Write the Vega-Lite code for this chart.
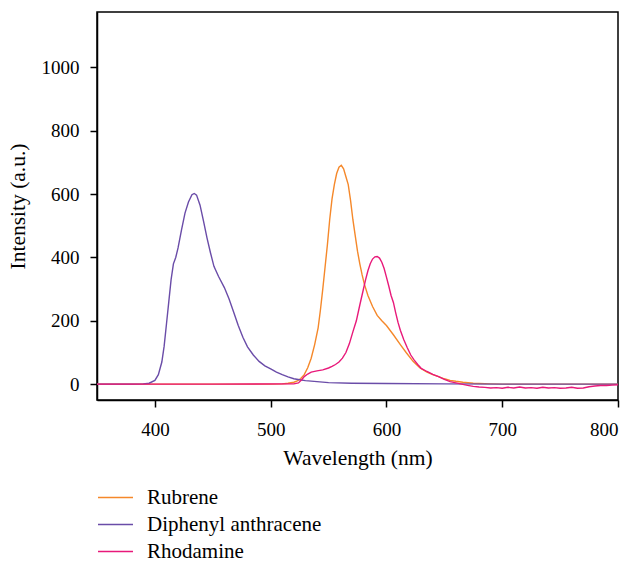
{
  "$schema": "https://vega.github.io/schema/vega-lite/v6.json",
  "width": 521,
  "height": 388,
  "autosize": {"type": "none"},
  "padding": {"left": 97, "top": 12, "right": 17, "bottom": 161},
  "background": "white",
  "config": {
    "view": {"stroke": "black", "strokeWidth": 1.5},
    "axis": {
      "grid": false,
      "domainColor": "black",
      "domainWidth": 1.5,
      "tickColor": "black",
      "tickWidth": 1.5,
      "tickSize": 7,
      "labelFont": "'Liberation Serif', 'Times New Roman', Times, serif",
      "labelFontSize": 19,
      "labelColor": "black",
      "titleFont": "'Liberation Serif', 'Times New Roman', Times, serif",
      "titleFontSize": 21.5,
      "titleFontWeight": "normal",
      "titleColor": "black"
    },
    "legend": {
      "labelFont": "'Liberation Serif', 'Times New Roman', Times, serif",
      "labelFontSize": 21,
      "labelColor": "black",
      "labelLimit": 400
    }
  },
  "data": {
    "values": [
      {"w": 350, "i": 0, "s": "Rubrene"},
      {"w": 450, "i": 0, "s": "Rubrene"},
      {"w": 500, "i": 0, "s": "Rubrene"},
      {"w": 510, "i": 1, "s": "Rubrene"},
      {"w": 515, "i": 3, "s": "Rubrene"},
      {"w": 520, "i": 6, "s": "Rubrene"},
      {"w": 523, "i": 10, "s": "Rubrene"},
      {"w": 526, "i": 18, "s": "Rubrene"},
      {"w": 529, "i": 30, "s": "Rubrene"},
      {"w": 532, "i": 52, "s": "Rubrene"},
      {"w": 535, "i": 82, "s": "Rubrene"},
      {"w": 538, "i": 125, "s": "Rubrene"},
      {"w": 541, "i": 178, "s": "Rubrene"},
      {"w": 543, "i": 235, "s": "Rubrene"},
      {"w": 545, "i": 300, "s": "Rubrene"},
      {"w": 547, "i": 370, "s": "Rubrene"},
      {"w": 549, "i": 440, "s": "Rubrene"},
      {"w": 551, "i": 520, "s": "Rubrene"},
      {"w": 553, "i": 585, "s": "Rubrene"},
      {"w": 555, "i": 630, "s": "Rubrene"},
      {"w": 557, "i": 665, "s": "Rubrene"},
      {"w": 559, "i": 685, "s": "Rubrene"},
      {"w": 561, "i": 691, "s": "Rubrene"},
      {"w": 563, "i": 680, "s": "Rubrene"},
      {"w": 565, "i": 655, "s": "Rubrene"},
      {"w": 567, "i": 630, "s": "Rubrene"},
      {"w": 569, "i": 580, "s": "Rubrene"},
      {"w": 571, "i": 520, "s": "Rubrene"},
      {"w": 573, "i": 470, "s": "Rubrene"},
      {"w": 575, "i": 420, "s": "Rubrene"},
      {"w": 577, "i": 380, "s": "Rubrene"},
      {"w": 579, "i": 345, "s": "Rubrene"},
      {"w": 581, "i": 315, "s": "Rubrene"},
      {"w": 584, "i": 280, "s": "Rubrene"},
      {"w": 588, "i": 245, "s": "Rubrene"},
      {"w": 592, "i": 217, "s": "Rubrene"},
      {"w": 596, "i": 200, "s": "Rubrene"},
      {"w": 600, "i": 185, "s": "Rubrene"},
      {"w": 606, "i": 156, "s": "Rubrene"},
      {"w": 612, "i": 125, "s": "Rubrene"},
      {"w": 617, "i": 100, "s": "Rubrene"},
      {"w": 623, "i": 72, "s": "Rubrene"},
      {"w": 629, "i": 51, "s": "Rubrene"},
      {"w": 635, "i": 38, "s": "Rubrene"},
      {"w": 640, "i": 30, "s": "Rubrene"},
      {"w": 645, "i": 24, "s": "Rubrene"},
      {"w": 650, "i": 17, "s": "Rubrene"},
      {"w": 655, "i": 12, "s": "Rubrene"},
      {"w": 660, "i": 9, "s": "Rubrene"},
      {"w": 666, "i": 6, "s": "Rubrene"},
      {"w": 675, "i": 3, "s": "Rubrene"},
      {"w": 690, "i": 1, "s": "Rubrene"},
      {"w": 700, "i": 0, "s": "Rubrene"},
      {"w": 800, "i": 0, "s": "Rubrene"},

      {"w": 350, "i": 0, "s": "Diphenyl anthracene"},
      {"w": 380, "i": 0, "s": "Diphenyl anthracene"},
      {"w": 390, "i": 1, "s": "Diphenyl anthracene"},
      {"w": 395, "i": 3, "s": "Diphenyl anthracene"},
      {"w": 400, "i": 12, "s": "Diphenyl anthracene"},
      {"w": 403, "i": 30, "s": "Diphenyl anthracene"},
      {"w": 406, "i": 70, "s": "Diphenyl anthracene"},
      {"w": 408, "i": 120, "s": "Diphenyl anthracene"},
      {"w": 410, "i": 190, "s": "Diphenyl anthracene"},
      {"w": 412, "i": 260, "s": "Diphenyl anthracene"},
      {"w": 414, "i": 330, "s": "Diphenyl anthracene"},
      {"w": 416, "i": 380, "s": "Diphenyl anthracene"},
      {"w": 418, "i": 400, "s": "Diphenyl anthracene"},
      {"w": 420, "i": 430, "s": "Diphenyl anthracene"},
      {"w": 423, "i": 487, "s": "Diphenyl anthracene"},
      {"w": 426, "i": 540, "s": "Diphenyl anthracene"},
      {"w": 429, "i": 575, "s": "Diphenyl anthracene"},
      {"w": 432, "i": 598, "s": "Diphenyl anthracene"},
      {"w": 434, "i": 602, "s": "Diphenyl anthracene"},
      {"w": 436, "i": 597, "s": "Diphenyl anthracene"},
      {"w": 439, "i": 565, "s": "Diphenyl anthracene"},
      {"w": 442, "i": 515, "s": "Diphenyl anthracene"},
      {"w": 445, "i": 462, "s": "Diphenyl anthracene"},
      {"w": 448, "i": 415, "s": "Diphenyl anthracene"},
      {"w": 451, "i": 372, "s": "Diphenyl anthracene"},
      {"w": 455, "i": 340, "s": "Diphenyl anthracene"},
      {"w": 460, "i": 305, "s": "Diphenyl anthracene"},
      {"w": 464, "i": 270, "s": "Diphenyl anthracene"},
      {"w": 468, "i": 228, "s": "Diphenyl anthracene"},
      {"w": 472, "i": 185, "s": "Diphenyl anthracene"},
      {"w": 476, "i": 148, "s": "Diphenyl anthracene"},
      {"w": 480, "i": 118, "s": "Diphenyl anthracene"},
      {"w": 485, "i": 92, "s": "Diphenyl anthracene"},
      {"w": 490, "i": 72, "s": "Diphenyl anthracene"},
      {"w": 495, "i": 58, "s": "Diphenyl anthracene"},
      {"w": 500, "i": 48, "s": "Diphenyl anthracene"},
      {"w": 505, "i": 38, "s": "Diphenyl anthracene"},
      {"w": 510, "i": 30, "s": "Diphenyl anthracene"},
      {"w": 515, "i": 23, "s": "Diphenyl anthracene"},
      {"w": 520, "i": 17, "s": "Diphenyl anthracene"},
      {"w": 525, "i": 14, "s": "Diphenyl anthracene"},
      {"w": 530, "i": 11, "s": "Diphenyl anthracene"},
      {"w": 540, "i": 8, "s": "Diphenyl anthracene"},
      {"w": 550, "i": 5, "s": "Diphenyl anthracene"},
      {"w": 570, "i": 3, "s": "Diphenyl anthracene"},
      {"w": 600, "i": 2, "s": "Diphenyl anthracene"},
      {"w": 650, "i": 1, "s": "Diphenyl anthracene"},
      {"w": 700, "i": 0, "s": "Diphenyl anthracene"},
      {"w": 800, "i": 0, "s": "Diphenyl anthracene"},

      {"w": 350, "i": 0, "s": "Rhodamine"},
      {"w": 450, "i": 0, "s": "Rhodamine"},
      {"w": 520, "i": 1, "s": "Rhodamine"},
      {"w": 524, "i": 4, "s": "Rhodamine"},
      {"w": 527, "i": 15, "s": "Rhodamine"},
      {"w": 529, "i": 24, "s": "Rhodamine"},
      {"w": 532, "i": 32, "s": "Rhodamine"},
      {"w": 535, "i": 38, "s": "Rhodamine"},
      {"w": 540, "i": 42, "s": "Rhodamine"},
      {"w": 545, "i": 45, "s": "Rhodamine"},
      {"w": 550, "i": 51, "s": "Rhodamine"},
      {"w": 553, "i": 56, "s": "Rhodamine"},
      {"w": 556, "i": 62, "s": "Rhodamine"},
      {"w": 559, "i": 70, "s": "Rhodamine"},
      {"w": 562, "i": 82, "s": "Rhodamine"},
      {"w": 565, "i": 100, "s": "Rhodamine"},
      {"w": 568, "i": 128, "s": "Rhodamine"},
      {"w": 571, "i": 165, "s": "Rhodamine"},
      {"w": 574, "i": 200, "s": "Rhodamine"},
      {"w": 577, "i": 250, "s": "Rhodamine"},
      {"w": 580, "i": 298, "s": "Rhodamine"},
      {"w": 582, "i": 330, "s": "Rhodamine"},
      {"w": 584, "i": 358, "s": "Rhodamine"},
      {"w": 586, "i": 380, "s": "Rhodamine"},
      {"w": 588, "i": 395, "s": "Rhodamine"},
      {"w": 590, "i": 402, "s": "Rhodamine"},
      {"w": 592, "i": 403, "s": "Rhodamine"},
      {"w": 594, "i": 398, "s": "Rhodamine"},
      {"w": 596, "i": 385, "s": "Rhodamine"},
      {"w": 598, "i": 365, "s": "Rhodamine"},
      {"w": 600, "i": 338, "s": "Rhodamine"},
      {"w": 602, "i": 310, "s": "Rhodamine"},
      {"w": 604, "i": 280, "s": "Rhodamine"},
      {"w": 606, "i": 258, "s": "Rhodamine"},
      {"w": 608, "i": 225, "s": "Rhodamine"},
      {"w": 610, "i": 195, "s": "Rhodamine"},
      {"w": 612, "i": 170, "s": "Rhodamine"},
      {"w": 615, "i": 140, "s": "Rhodamine"},
      {"w": 618, "i": 115, "s": "Rhodamine"},
      {"w": 621, "i": 92, "s": "Rhodamine"},
      {"w": 624, "i": 76, "s": "Rhodamine"},
      {"w": 627, "i": 62, "s": "Rhodamine"},
      {"w": 630, "i": 50, "s": "Rhodamine"},
      {"w": 635, "i": 40, "s": "Rhodamine"},
      {"w": 640, "i": 31, "s": "Rhodamine"},
      {"w": 645, "i": 24, "s": "Rhodamine"},
      {"w": 650, "i": 15, "s": "Rhodamine"},
      {"w": 655, "i": 8, "s": "Rhodamine"},
      {"w": 660, "i": 4, "s": "Rhodamine"},
      {"w": 665, "i": 0, "s": "Rhodamine"},
      {"w": 670, "i": -4, "s": "Rhodamine"},
      {"w": 675, "i": -7, "s": "Rhodamine"},
      {"w": 680, "i": -9, "s": "Rhodamine"},
      {"w": 685, "i": -10, "s": "Rhodamine"},
      {"w": 690, "i": -12, "s": "Rhodamine"},
      {"w": 695, "i": -11, "s": "Rhodamine"},
      {"w": 700, "i": -13, "s": "Rhodamine"},
      {"w": 705, "i": -10, "s": "Rhodamine"},
      {"w": 710, "i": -12, "s": "Rhodamine"},
      {"w": 715, "i": -9, "s": "Rhodamine"},
      {"w": 720, "i": -12, "s": "Rhodamine"},
      {"w": 725, "i": -11, "s": "Rhodamine"},
      {"w": 730, "i": -13, "s": "Rhodamine"},
      {"w": 735, "i": -10, "s": "Rhodamine"},
      {"w": 740, "i": -12, "s": "Rhodamine"},
      {"w": 745, "i": -11, "s": "Rhodamine"},
      {"w": 750, "i": -13, "s": "Rhodamine"},
      {"w": 755, "i": -12, "s": "Rhodamine"},
      {"w": 760, "i": -10, "s": "Rhodamine"},
      {"w": 765, "i": -13, "s": "Rhodamine"},
      {"w": 770, "i": -12, "s": "Rhodamine"},
      {"w": 775, "i": -8, "s": "Rhodamine"},
      {"w": 780, "i": -6, "s": "Rhodamine"},
      {"w": 785, "i": -4, "s": "Rhodamine"},
      {"w": 790, "i": -4, "s": "Rhodamine"},
      {"w": 795, "i": -3, "s": "Rhodamine"},
      {"w": 800, "i": -2, "s": "Rhodamine"}
    ]
  },
  "mark": {"type": "line", "strokeWidth": 1.4, "clip": true},
  "encoding": {
    "x": {
      "field": "w",
      "type": "quantitative",
      "scale": {"domain": [350, 800], "nice": false, "zero": false},
      "axis": {"title": "Wavelength (nm)", "values": [400, 500, 600, 700, 800], "labelPadding": 13, "titlePadding": 8}
    },
    "y": {
      "field": "i",
      "type": "quantitative",
      "scale": {"domain": [-50, 1175], "nice": false, "zero": false},
      "axis": {"title": "Intensity (a.u.)", "values": [0, 200, 400, 600, 800, 1000], "format": "d", "labelPadding": 11, "titlePadding": 12}
    },
    "color": {
      "field": "s",
      "type": "nominal",
      "scale": {"domain": ["Rubrene", "Diphenyl anthracene", "Rhodamine"], "range": ["#f5882a", "#6a4ca8", "#e8197a"]},
      "legend": {
        "title": null,
        "orient": "none",
        "legendX": 8,
        "legendY": 475,
        "padding": 0,
        "symbolType": "M-2,0H2",
        "symbolSize": 306,
        "symbolStrokeWidth": 1.5,
        "labelOffset": 21,
        "rowPadding": 5
      }
    }
  }
}
